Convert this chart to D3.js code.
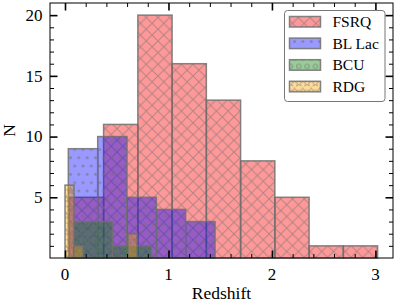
<!DOCTYPE html>
<html>
<head>
<meta charset="utf-8">
<script src="https://cdn.jsdelivr.net/npm/d3@7"></script>
<style>
  html, body { margin: 0; padding: 0; background: #fff; }
  svg { display: block; }
  text { font-family: "Liberation Serif", "DejaVu Serif", serif; fill: #000; }
</style>
</head>
<body>
<svg id="chart" width="396" height="307"></svg>
<script>
// ---- data ----
const seriesNames = ["FSRQ", "BL Lac", "BCU", "RDG"];
const fsrqEdges  = [0.042, 0.373, 0.704, 1.035, 1.366, 1.697, 2.028, 2.359, 2.690, 3.021];
const fsrqCounts = [5, 11, 20, 16, 13, 8, 5, 1, 1];
const bllacEdges  = [0.032, 0.316, 0.599, 0.883, 1.166, 1.450];
const bllacCounts = [9, 10, 5, 4, 3];
const bcuEdges  = [0.080, 0.459, 0.838];
const bcuCounts = [3, 1];
const rdgEdges  = [0.000, 0.087, 0.174, 0.261, 0.348, 0.435, 0.522, 0.609, 0.696];
const rdgCounts = [6, 1, 0, 0, 0, 0, 0, 2];
const xTickValues = [0, 1, 2, 3];
const yTickValues = [5, 10, 15, 20];
const xLabel = "Redshift";
const yLabel = "N";

const seriesColors = ["#ff0000", "#0000ff", "#008000", "#ffa500"];
const hatchKinds = ["cross", "dots", "circles", "stars"];

const series = [
  {name: seriesNames[0], edges: fsrqEdges, counts: fsrqCounts},
  {name: seriesNames[1], edges: bllacEdges, counts: bllacCounts},
  {name: seriesNames[2], edges: bcuEdges, counts: bcuCounts},
  {name: seriesNames[3], edges: rdgEdges, counts: rdgCounts}
];

// ---- layout ----
const L = 50, R = 393, T = 3, B = 258;
const svg = d3.select("#chart");
const x = d3.scaleLinear().domain([-0.145, 3.17]).range([L, R]);
const y = d3.scaleLinear().domain([0, 21]).range([B, T]);

// ---- patterns ----
const defs = svg.append("defs");
const hatchColor = "#707070";
const hatchOpacity = 0.55;
series.forEach((s, i) => {
  const kind = hatchKinds[i];
  let w, h;
  if (kind === "cross") { w = 11.7; h = 11.7; } else { w = 8.3; h = 16.6; }
  const p = defs.append("pattern")
    .attr("id", "pat" + i)
    .attr("patternUnits", "userSpaceOnUse")
    .attr("width", w).attr("height", h);
  p.append("rect").attr("width", w).attr("height", h)
    .attr("fill", seriesColors[i]).attr("fill-opacity", 0.4);
  const g = p.append("g").attr("opacity", hatchOpacity);
  if (kind === "cross") {
    g.append("path")
      .attr("d", `M-1,-1L${w+1},${h+1}M-1,${h+1}L${w+1},-1`)
      .attr("stroke", hatchColor).attr("stroke-width", 1).attr("fill", "none");
  } else {
    const pts = [[0,0],[w,0],[0,h],[w,h],[w/2,h/2]];
    pts.forEach(([px, py]) => {
      if (kind === "dots") {
        g.append("circle").attr("cx", px).attr("cy", py).attr("r", 1.5)
          .attr("fill", hatchColor);
      } else if (kind === "circles") {
        g.append("circle").attr("cx", px).attr("cy", py).attr("r", 2.2)
          .attr("fill", "none").attr("stroke", hatchColor).attr("stroke-width", 1);
      } else {
        const star = d3.symbol().type(d3.symbolStar).size(16)();
        g.append("path").attr("d", star).attr("transform", `translate(${px},${py})`)
          .attr("fill", "none").attr("stroke", hatchColor).attr("stroke-width", 0.9);
      }
    });
  }
});

// ---- bars ----
const plot = svg.append("g");
series.forEach((s, i) => {
  const bins = s.counts.map((c, k) => ({x0: s.edges[k], x1: s.edges[k+1], c}))
    .filter(d => d.c > 0);
  plot.append("g").selectAll("rect").data(bins).join("rect")
    .attr("x", d => x(d.x0))
    .attr("y", d => y(d.c))
    .attr("width", d => x(d.x1) - x(d.x0))
    .attr("height", d => y(0) - y(d.c))
    .attr("fill", `url(#pat${i})`)
    .attr("stroke", "#707070")
    .attr("stroke-opacity", 0.85)
    .attr("stroke-width", 1.5);
});

// ---- axes (ticks inside, all four sides) ----
const ax = svg.append("g");
function ticks(axisGen, transform, minorVals) {
  const gm = ax.append("g").attr("transform", transform)
    .call(axisGen.tickValues(minorVals).tickSize(4).tickFormat(""));
  gm.select(".domain").remove();
  gm.selectAll(".tick line").attr("stroke", "#000").attr("stroke-width", 1);
  return gm;
}
const xMinor = d3.range(0, 3.01, 0.2).map(v => +v.toFixed(2)).filter(v => !xTickValues.includes(v));
const yMinor = d3.range(1, 21, 1).filter(v => !yTickValues.includes(v));

// minor
ticks(d3.axisTop(x), `translate(0,${B})`, xMinor);
ticks(d3.axisBottom(x), `translate(0,${T})`, xMinor);
ticks(d3.axisRight(y), `translate(${L},0)`, yMinor);
ticks(d3.axisLeft(y), `translate(${R},0)`, yMinor);

// major
function major(axisGen, transform) {
  const g = ax.append("g").attr("transform", transform)
    .call(axisGen.tickSize(7.5).tickFormat(""));
  g.select(".domain").remove();
  g.selectAll(".tick line").attr("stroke", "#000").attr("stroke-width", 1.6);
}
major(d3.axisTop(x).tickValues(xTickValues), `translate(0,${B})`);
major(d3.axisBottom(x).tickValues(xTickValues), `translate(0,${T})`);
major(d3.axisRight(y).tickValues(yTickValues), `translate(${L},0)`);
major(d3.axisLeft(y).tickValues(yTickValues), `translate(${R},0)`);

// tick labels
ax.append("g").selectAll("text").data(xTickValues).join("text")
  .attr("x", d => x(d)).attr("y", 280)
  .attr("text-anchor", "middle").attr("font-size", 17)
  .text(d => d);
ax.append("g").selectAll("text").data(yTickValues).join("text")
  .attr("x", 42.5).attr("y", d => y(d)).attr("dy", "0.34em")
  .attr("text-anchor", "end").attr("font-size", 17)
  .text(d => d);

// frame
svg.append("rect").attr("x", L).attr("y", T).attr("width", R - L).attr("height", B - T)
  .attr("fill", "none").attr("stroke", "#000").attr("stroke-width", 1);

// axis labels
svg.append("text").attr("x", (L + R) / 2).attr("y", 298.5)
  .attr("text-anchor", "middle").attr("font-size", 17.5).text(xLabel);
svg.append("text").attr("transform", `translate(14.5,${(T + B) / 2}) rotate(-90)`)
  .attr("text-anchor", "middle").attr("font-size", 17.5).text(yLabel);

// ---- legend ----
const lg = svg.append("g");
lg.append("rect").attr("x", 284.5).attr("y", 10.5).attr("width", 100.5).attr("height", 91)
  .attr("rx", 3).attr("fill", "#fff").attr("fill-opacity", 0.8)
  .attr("stroke", "#777").attr("stroke-width", 1);
series.forEach((s, i) => {
  const yy = 16.5 + i * 21.6;
  lg.append("rect").attr("x", 289.5).attr("y", yy).attr("width", 31).attr("height", 10.5)
    .attr("fill", `url(#pat${i})`).attr("stroke", "#707070").attr("stroke-opacity", 0.85)
    .attr("stroke-width", 1.5);
  lg.append("text").attr("x", 332.5).attr("y", yy + 5.25).attr("dy", "0.35em")
    .attr("font-size", 15.5).text(s.name);
});
</script>
</body>
</html>
